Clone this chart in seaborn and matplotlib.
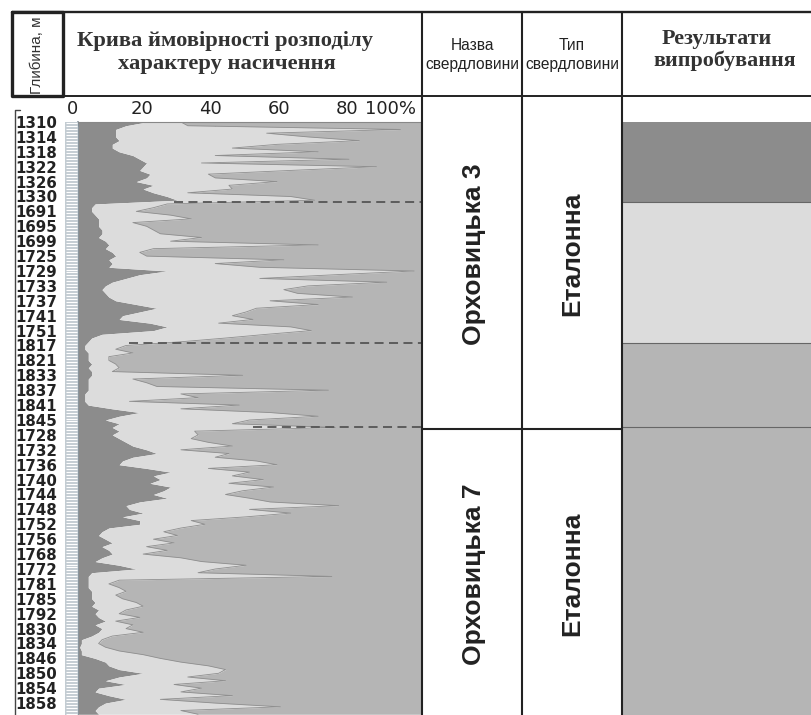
import numpy as np
import pandas as pd
import matplotlib
matplotlib.use('Agg')
import matplotlib.pyplot as plt
from matplotlib.transforms import ScaledTranslation
import seaborn as sns

sns.set_style('white')
plt.rcParams['font.family'] = ['DejaVu Sans']

# підписи глибин (рівномірно по осі, сегменти різних інтервалів)
depth_labels = ['1310', '1314', '1318', '1322', '1326', '1330', '1691', '1695',
                '1699', '1725', '1729', '1733', '1737', '1741', '1751', '1817',
                '1821', '1833', '1837', '1841', '1845', '1728', '1732', '1736',
                '1740', '1744', '1748', '1752', '1756', '1768', '1772', '1781',
                '1785', '1792', '1830', '1834', '1846', '1850', '1854', '1858']

# межа темної зони (%), 4 відліки на інтервал між підписами
dark_edge = [20, 14, 11, 11,   11, 12, 10, 10,   12, 16, 18, 20,   19, 18, 21, 20,
             17, 22, 19, 22,   26, 29, 5, 4,     4, 5, 6, 6,       6, 7, 7, 6,
             8, 9, 8, 10,      11, 9, 10, 9,     26, 18, 14, 10,   8, 7, 8, 9,
             11, 17, 23, 18,   13, 12, 21, 26,   22, 7, 4, 3,      2, 2, 3, 3,
             3, 4, 3, 4,       4, 3, 3, 3,       3, 2, 2, 2,       3, 10, 18, 12,
             8, 12, 10, 12,    10, 12, 14, 16,   20, 23, 16, 13,   12, 20, 27, 22,
             24, 21, 27, 25,   22, 26, 18, 14,   15, 19, 13, 18,   18, 9, 7, 6,
             8, 10, 7, 9,      10, 7, 5, 12,     17, 4, 3, 3,      3, 3, 4, 4,
             4, 5, 4, 6,       5, 6, 8, 5,       7, 6, 4, 1,       1, 0.5, 1, 1,
             5, 8, 9, 12,      19, 12, 8, 14,    6, 5, 9, 14,      8, 6, 5, 6]

# межа світлої зони (%), далі - середньо-сіра
light_edge = [30, 32, 94, 55,  67, 82, 58, 45,   70, 40, 79, 36,   87, 62, 38, 40,
              58, 44, 45, 32,  62, 69, 26, 22,   17, 27, 33, 16,   20, 22, 24, 36,
              27, 70, 22, 18,  20, 60, 40, 53,   98, 75, 53, 90,   67, 60, 64, 80,
              56, 70, 52, 49,  45, 51, 41, 62,   68, 55, 43, 30,   14, 11, 16, 9,
              9, 11, 12, 10,   48, 16, 20, 23,   73, 30, 35, 15,   47, 30, 56, 70,
              50, 45, 75, 34,  35, 33, 38, 45,   30, 44, 40, 52,   58, 38, 50, 45,
              54, 44, 57, 48,  43, 50, 56, 76,   50, 62, 49, 33,   37, 30, 25, 29,
              22, 28, 20, 26,  19, 30, 36, 49,   40, 35, 74, 12,   9, 12, 14, 11,
              13, 17, 19, 14,  12, 18, 11, 16,   14, 19, 10, 7,    6, 8, 12, 19,
              24, 30, 38, 43,  41, 32, 43, 28,   36, 30, 45, 24,   40, 59, 30, 35]

dashed_pos = [5.4, 14.85, 20.5]
dashed_start = [28, 15, 51]

result_bounds = [0, 5.4, 14.85, 39.8]
result_colors = ['#8c8c8c', '#dcdcdc', '#b5b5b5']

well_names = ['Орховицька 3', 'Орховицька 7']
well_types = ['Еталонна', 'Еталонна']

DARK, LIGHT, MED = '#8c8c8c', '#dcdcdc', '#b5b5b5'
W, H = 811, 715
Y_BOTTOM = 39.8


def box(x0, y0, x1, y1):
    return [x0 / W, 1 - y1 / H, (x1 - x0) / W, (y1 - y0) / H]


df = pd.DataFrame({'pos': np.arange(len(dark_edge)) * 0.25,
                   'dark': dark_edge, 'light': light_edge})

fig = plt.figure(figsize=(W / 100, H / 100), dpi=100)

# основна крива
ax = fig.add_axes(box(78, 122, 421, 715))
ax.fill_betweenx(df['pos'], 0, df['dark'], color=DARK, lw=0)
ax.fill_betweenx(df['pos'], df['dark'], df['light'], color=LIGHT, lw=0)
ax.fill_betweenx(df['pos'], df['light'], 100, color=MED, lw=0)
sns.lineplot(data=df, x='light', y='pos', orient='y', sort=False, estimator=None,
             color='#8f8f8f', lw=0.6, ax=ax)
ax.hlines(dashed_pos, dashed_start, 100, colors='#555555', lw=1.3, linestyles=(0, (5, 3)))
ax.set_xlim(0, 100)
ax.set_ylim(Y_BOTTOM, 0)
ax.set_xlabel('')
ax.set_ylabel('')
ax.xaxis.tick_top()
ax.set_xticks([0, 20, 40, 60, 80, 100], labels=['0', '20', '40', '60', '80', '100%'])
ax.tick_params(axis='x', direction='in', length=3, pad=3, labelsize=13,
               color='#777777', labelcolor='#222222')
ax.set_yticks(np.arange(len(depth_labels)), labels=depth_labels)
ax.tick_params(axis='y', length=0, pad=45, labelsize=10.8, labelcolor='#222222')
# підписи шкали зсунуті трохи ліворуч від рисок, як в оригіналі
shift = ScaledTranslation(-5 / 100, 0, fig.dpi_scale_trans)
for lab in ax.get_xticklabels():
    lab.set_transform(lab.get_transform() + shift)
ax.get_xticklabels()[-1].set_ha('right')
for lab in ax.get_yticklabels():
    lab.set_ha('left')
    lab.set_fontweight('bold')
for s in ['right', 'bottom']:
    ax.spines[s].set_visible(False)
ax.spines['left'].set_color('#7f8c96')
ax.spines['left'].set_linewidth(1.2)
ax.spines['top'].set_color('#888888')
ax.spines['top'].set_linewidth(0.8)

# смуга літології
ax_s = fig.add_axes(box(65, 122, 78, 715))
ax_s.fill_betweenx([0, Y_BOTTOM], 0, 1, color='#c3ccd2', lw=0)
ax_s.hlines(np.arange(0.1, Y_BOTTOM, 0.2), 0.1, 0.9, colors='white', lw=0.8)
ax_s.set_xlim(0, 1)
ax_s.set_ylim(Y_BOTTOM, 0)
ax_s.axis('off')

# результати випробування
ax_r = fig.add_axes(box(622, 122, 811, 715))
for top, bot, c in zip(result_bounds[:-1], result_bounds[1:], result_colors):
    ax_r.axhspan(top, bot, color=c, lw=0)
ax_r.hlines(result_bounds[1:-1] + [20.5], 0, 1, colors='#666666', lw=0.8)
ax_r.set_xlim(0, 1)
ax_r.set_ylim(Y_BOTTOM, 0)
ax_r.axis('off')

# таблиця / шапка
ov = fig.add_axes([0, 0, 1, 1], zorder=10)
ov.set_xlim(0, W)
ov.set_ylim(H, 0)
ov.axis('off')
lc = '#222222'
ov.plot([12, 63, 63, 12, 12], [12, 12, 96, 96, 12], color=lc, lw=2.4)
ov.plot([12, 811], [12, 12], color=lc, lw=1.7)
ov.plot([12, 811], [96, 96], color=lc, lw=1.4)
for xv in [422, 522, 622]:
    ov.plot([xv, xv], [12, 715], color=lc, lw=1.5)
ov.plot([422, 622], [429, 429], color=lc, lw=1.5)
ov.plot([20, 15, 15], [110, 110, 715], color='#444444', lw=1.0)

serif = ['Liberation Serif', 'DejaVu Serif']
sans = ['Liberation Sans', 'DejaVu Sans']
ov.text(37, 55, 'Глибина, м', rotation=90, ha='center', va='center',
        fontsize=11, family=sans, color='#333333')
ov.text(225, 41, 'Крива ймовірності розподілу', ha='center', va='center',
        fontsize=16.2, family=serif, fontweight='bold', color='#333333')
ov.text(227, 64, 'характеру насичення', ha='center', va='center',
        fontsize=16.2, family=serif, fontweight='bold', color='#333333')
for xc, top in [(472, 'Назва'), (572, 'Тип')]:
    ov.text(xc, 45, top, ha='center', va='center', fontsize=11.2, family=sans, color='#222222')
    ov.text(xc, 65, 'свердловини', ha='center', va='center', fontsize=11.2,
            family=sans, color='#222222')
ov.text(717, 39, 'Результати', ha='center', va='center', fontsize=15.8,
        family=serif, fontweight='bold', color='#333333')
ov.text(725, 61, 'випробування', ha='center', va='center', fontsize=15.8,
        family=serif, fontweight='bold', color='#333333')

for yc, name, kind in zip([254, 574], well_names, well_types):
    ov.text(474, yc, name, rotation=90, ha='center', va='center', fontsize=19,
            family=sans, fontweight='bold', color='#222222')
    ov.text(572, yc, kind, rotation=90, ha='center', va='center', fontsize=19,
            family=sans, fontweight='bold', color='#222222')

fig.savefig('out.png', dpi=100)
